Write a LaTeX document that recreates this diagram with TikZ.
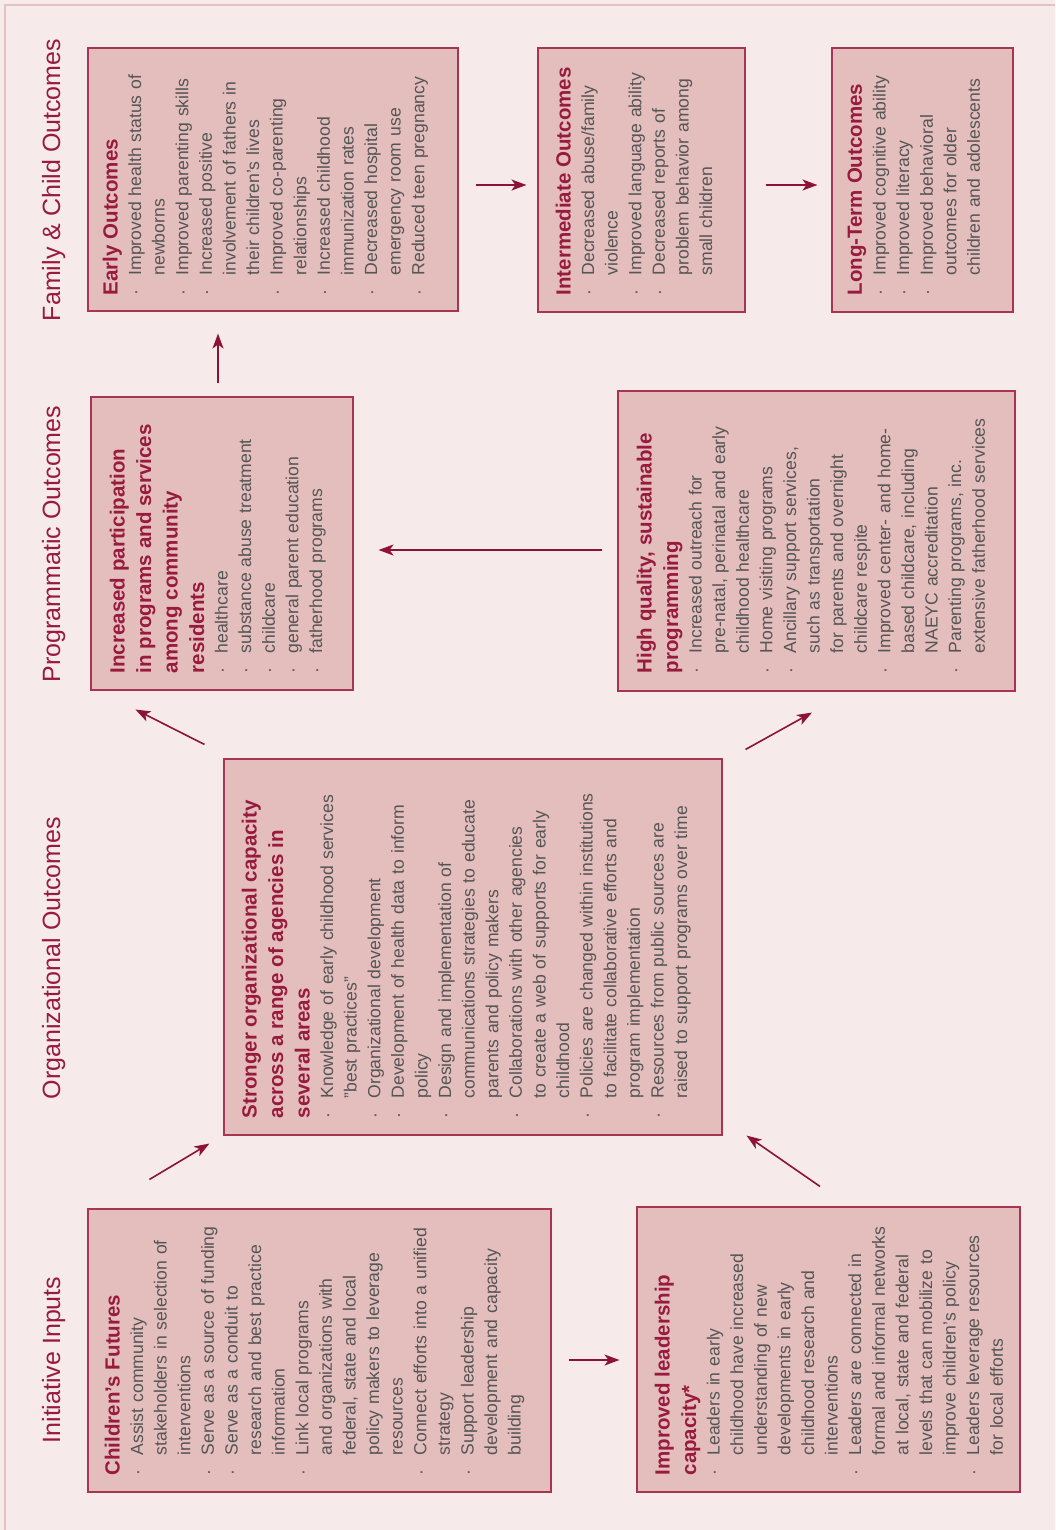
\documentclass[tikz,border=0pt]{standalone}
\usepackage{fontspec}
\setmainfont{Liberation Sans}
\usetikzlibrary{arrows.meta}
\definecolor{bg}{HTML}{F6EBEA}
\definecolor{frameline}{HTML}{E3C2C0}
\definecolor{boxfill}{HTML}{E3BEBD}
\definecolor{boxline}{HTML}{A63452}
\definecolor{ttlred}{HTML}{981B3E}
\definecolor{arrred}{HTML}{8C1237}
\definecolor{bodygray}{HTML}{555555}
\newcommand\bodyfont{\fontsize{17.6}{23.6}\selectfont}
\newcommand\sectfont{\fontsize{25}{30}\selectfont}
\newcommand\ttl[1]{{\fontsize{20.5}{26.5}\selectfont\bfseries\color{ttlred}#1\par}}
\newcommand\itm[1]{\noindent\hangindent=20pt\hangafter=0\llap{\makebox[20pt][l]{·}}#1\par}
\newcommand\nxl{\newline}
\newcommand\sq{\symbol{34}}
\tikzset{
  box/.style={draw=boxline, fill=boxfill, line width=1.1pt, inner sep=0pt},
  txt/.style={rotate=90, anchor=north west, inner sep=0pt, text width=#1, align=left, font=\bodyfont, text=bodygray},
  sect/.style={rotate=90, anchor=base, font=\sectfont, text=ttlred, inner sep=0pt},
  arr/.style={draw=arrred, line width=1.6pt, -{Stealth[length=15pt,width=11pt,inset=4pt]}},
}
\begin{document}
\begin{tikzpicture}[x=1pt,y=-1pt]
\useasboundingbox (0,0) rectangle (1055,1530);
\fill[bg] (0,0) rectangle (1055,1530);
\draw[frameline, line width=2.5pt] (5,1530) -- (5,5) -- (1055,5);

% section labels
\node[sect] (s1) at (60,180) {Family \& Child Outcomes};
\node[sect] (s2) at (60,544) {Programmatic Outcomes};
\node[sect] (s3) at (60,958) {Organizational Outcomes};
\node[sect] (s4) at (60,1360) {Initiative Inputs};

% boxes
\node[box, minimum width=370pt, minimum height=263pt] (eo) at (273,179.5) {};
\node[box, minimum width=207pt, minimum height=264pt] (io) at (641.5,180) {};
\node[box, minimum width=181pt, minimum height=264pt] (lo) at (922.5,180) {};
\node[box, minimum width=262pt, minimum height=293pt] (ip) at (222,543.5) {};
\node[box, minimum width=397pt, minimum height=300pt] (hq) at (816.5,541) {};
\node[box, minimum width=498pt, minimum height=376pt] (so) at (473,947) {};
\node[box, minimum width=463pt, minimum height=283pt] (cf) at (319.5,1350.5) {};
\node[box, minimum width=383pt, minimum height=285pt] (il) at (828.5,1349.5) {};

% texts
\node[txt=250pt] (eot) at ([shift={(15,-16)}]eo.south west) {%
\ttl{Early Outcomes}
\itm{Improved health status of\nxl newborns}
\itm{Improved parenting skills}
\itm{Increased positive\nxl involvement of fathers in\nxl their children's lives}
\itm{Improved co-parenting\nxl relationships}
\itm{Increased childhood\nxl immunization rates}
\itm{Decreased hospital\nxl emergency room use}
\itm{Reduced teen pregnancy}};

\node[txt=250pt] (iot) at ([shift={(18,-17)}]io.south west) {%
\ttl{Intermediate Outcomes}
\itm{Decreased abuse/family\nxl violence}
\itm{Improved language ability}
\itm{Decreased reports of\nxl problem behavior among\nxl small children}};

\node[txt=250pt] (lot) at ([shift={(16,-17)}]lo.south west) {%
\ttl{Long-Term Outcomes}
\itm{Improved cognitive ability}
\itm{Improved literacy}
\itm{Improved behavioral\nxl outcomes for older\nxl children and adolescents}};

\node[txt=280pt] (ipt) at ([shift={(19,-17)}]ip.south west) {%
\ttl{Increased participation\\ in programs and services\\ among community\\ residents}
\itm{healthcare}
\itm{substance abuse treatment}
\itm{childcare}
\itm{general parent education}
\itm{fatherhood programs}};

\node[txt=285pt] (hqt) at ([shift={(19,-18)}]hq.south west) {%
\ttl{High quality, sustainable\\ programming}
\itm{Increased outreach for\nxl pre-natal, perinatal and early\nxl childhood healthcare}
\itm{Home visiting programs}
\itm{Ancillary support services,\nxl such as transportation\nxl for parents and overnight\nxl childcare respite}
\itm{Improved center- and home-\nxl based childcare, including\nxl NAEYC accreditation}
\itm{Parenting programs, inc.\nxl extensive fatherhood services}};

\node[txt=360pt] (sot) at ([shift={(18,-17)}]so.south west) {%
\ttl{Stronger organizational capacity\\ across a range of agencies in\\ several areas}
\itm{Knowledge of early childhood services\nxl \sq best practices\sq}
\itm{Organizational development}
\itm{Development of health data to inform\nxl policy}
\itm{Design and implementation of\nxl communications strategies to educate\nxl parents and policy makers}
\itm{Collaborations with other agencies\nxl to create a web of supports for early\nxl childhood}
\itm{Policies are changed within institutions\nxl to facilitate collaborative efforts and\nxl program implementation}
\itm{Resources from public sources are\nxl raised to support programs over time}};

\node[txt=270pt] (cft) at ([shift={(17,-17)}]cf.south west) {%
\ttl{Children’s Futures}
\itm{Assist community\nxl stakeholders in selection of\nxl interventions}
\itm{Serve as a source of funding}
\itm{Serve as a conduit to\nxl research and best practice\nxl information}
\itm{Link local programs\nxl and organizations with\nxl federal, state and local\nxl policy makers to leverage\nxl resources}
\itm{Connect efforts into a unified\nxl strategy}
\itm{Support leadership\nxl development and capacity\nxl building}};

\node[txt=270pt] (ilt) at ([shift={(18,-17)}]il.south west) {%
\ttl{Improved leadership\\ capacity*}
\itm{Leaders in early\nxl childhood have increased\nxl understanding of new\nxl developments in early\nxl childhood research and\nxl interventions}
\itm{Leaders are connected in\nxl formal and informal networks\nxl at local, state and federal\nxl levels that can mobilize to\nxl improve children's policy}
\itm{Leaders leverage resources\nxl for local efforts}};

% arrows
\draw[arr] ([shift={(17,5.5)}]eo.east) -- ([shift={(-11,5)}]io.west);
\draw[arr] ([shift={(20,5)}]io.east) -- ([shift={(-14,5)}]lo.west);
\draw[arr] ([shift={(-4,-13)}]ip.north) -- ([shift={(-55,22)}]eo.south);
\draw[arr] ([shift={(-15,9)}]hq.west) -- ([shift={(25,6.5)}]ip.east);
\draw[arr] ([shift={(-19,-14)}]so.north west) -- ([shift={(45,19)}]ip.south west);
\draw[arr] ([shift={(23,-9)}]so.north east) -- ([shift={(-4.5,21)}]hq.south);
\draw[arr] ([shift={(62,-29)}]cf.north west) -- ([shift={(-14,8)}]so.south west);
\draw[arr] ([shift={(-8.5,-20)}]il.north) -- ([shift={(24,0)}]so.south east);
\draw[arr] ([shift={(17,9.5)}]cf.east) -- ([shift={(-17,10.5)}]il.west);
\end{tikzpicture}
\end{document}
